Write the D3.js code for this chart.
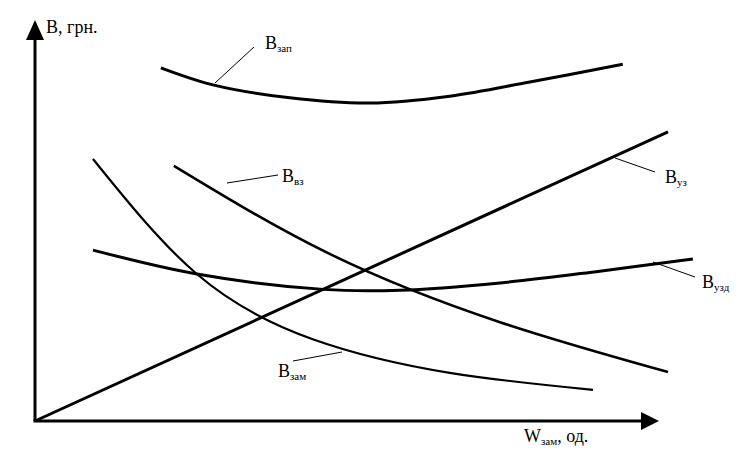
<!DOCTYPE html>
<html><head><meta charset="utf-8">
<script src="https://cdn.jsdelivr.net/npm/d3@7"></script>
<style>body{margin:0;background:#fff}svg{display:block}</style>
</head><body>
<script>
// Data in chart units (x: Wзам 0..100 along axis, y: B 0..100 along axis)
const zapX = [20.3, 28.7, 41.1, 54.0, 66.9, 79.8, 94.8];
const zapY = [87.2, 83.0, 79.8, 78.5, 80.2, 83.7, 88.1];
const vzX = [22.4, 47.6, 75.0, 102.1];
const vzY = [63.0, 41.2, 24.4, 12.1];
const zamX = [9.35, 26.1, 44.8, 66.9, 90.0];
const zamY = [64.7, 36.3, 20.2, 11.9, 7.7];
const uzX = [0, 102.1];
const uzY = [0, 71.4];
const uzdX = [9.35, 26.1, 46.5, 58.9, 75.0, 91.1, 106.1];
const uzdY = [42.2, 36.3, 32.5, 32.3, 34.1, 37.0, 40.0];

const W = 752, H = 464;
const svg = d3.select("body").append("svg").attr("width", W).attr("height", H);
const x = d3.scaleLinear().domain([0, 100]).range([35, 655]);
const y = d3.scaleLinear().domain([0, 100]).range([421, 16]);

const series = [
  {xs: zapX, ys: zapY, w: 3, c: d3.curveCatmullRom.alpha(0.5)},
  {xs: vzX, ys: vzY, w: 2.6, c: d3.curveNatural},
  {xs: zamX, ys: zamY, w: 2.2, c: d3.curveNatural},
  {xs: uzX, ys: uzY, w: 3, c: d3.curveLinear},
  {xs: uzdX, ys: uzdY, w: 3, c: d3.curveCatmullRom.alpha(0.5)}
];
series.forEach(s => {
  const line = d3.line().x(d => x(d[0])).y(d => y(d[1])).curve(s.c);
  svg.append("path").attr("d", line(s.xs.map((v, i) => [v, s.ys[i]])))
    .attr("fill", "none").attr("stroke", "#000").attr("stroke-width", s.w)
    .attr("stroke-linejoin", "round").attr("stroke-linecap", "butt");
});

// Axes with arrows
svg.append("line").attr("x1", x(0)).attr("y1", y(0)).attr("x2", x(0)).attr("y2", 38)
  .attr("stroke", "#000").attr("stroke-width", 3);
svg.append("path").attr("d", `M${x(0)},20 L${x(0)-9},40 L${x(0)+9},40 Z`).attr("fill", "#000");
svg.append("line").attr("x1", x(0)-1.5).attr("y1", y(0)).attr("x2", 644).attr("y2", y(0))
  .attr("stroke", "#000").attr("stroke-width", 3);
svg.append("path").attr("d", `M659,${y(0)} L641,${y(0)-9} L641,${y(0)+9} Z`).attr("fill", "#000");

// Labels with leader lines
const font = "Liberation Serif, Times New Roman, serif";
function label(tx, ty, main, sub, rest) {
  const t = svg.append("text").attr("x", tx).attr("y", ty)
    .attr("font-family", font).attr("font-size", 18).attr("fill", "#000");
  t.append("tspan").text(main);
  if (sub) t.append("tspan").attr("font-size", 11).attr("dy", 3).text(sub);
  if (rest) t.append("tspan").attr("dy", -3).text(rest);
}
function leader(x1, y1, x2, y2) {
  svg.append("line").attr("x1", x1).attr("y1", y1).attr("x2", x2).attr("y2", y2)
    .attr("stroke", "#000").attr("stroke-width", 1);
}
label(46, 33, "B, грн.", null, null);
label(265, 49, "B", "зап", null); leader(215, 83, 254, 47);
label(282, 182, "B", "вз", null); leader(227, 183, 278, 175);
label(665, 183, "B", "уз", null); leader(615, 158, 655, 172);
label(702, 288, "B", "узд", null); leader(653, 262, 695, 277);
label(278, 377, "B", "зам", null); leader(293, 361, 342, 352);
label(524, 442, "W", "зам", ", од.");
</script>
</body></html>
